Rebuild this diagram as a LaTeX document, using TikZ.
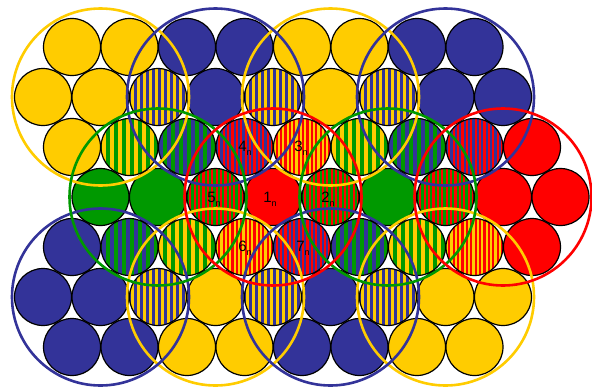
\documentclass[tikz,border=0pt]{standalone}
\usepackage{fontspec}
\setmainfont{Liberation Sans}
\definecolor{yel}{HTML}{FFCC00}
\definecolor{blu}{HTML}{333399}
\definecolor{grn}{HTML}{009900}
\definecolor{rd}{HTML}{FF0000}
\tikzset{
  cellline/.style={draw=black,line width=1.2pt},
  bigring/.style={line width=2.6pt},
  lab/.style={font=\fontsize{15}{15}\selectfont, inner sep=0pt},
}
\newcommand\solidcell[3]{%
  \fill[#3] (#1,#2) circle[radius=28.5pt];
  \draw[cellline] (#1,#2) circle[radius=28.5pt];}
\newcommand\hatchcell[5]{%
  \begin{scope}
    \clip (#1,#2) circle[radius=28.5pt];
    \fill[#3] ({#1-30},{#2-30}) rectangle ({#1+30},{#2+30});
    \foreach \k in {-8,...,8}
      \fill[#4] ({#1+\k*#5},{#2-30}) rectangle ++({#5/2},60);
  \end{scope}
  \draw[cellline] (#1,#2) circle[radius=28.5pt];}
\newcommand\lbl[1]{#1\raisebox{-0.5ex}{\fontsize{9}{9}\selectfont n}}
\begin{document}
\begin{tikzpicture}[x=1pt,y=-1pt]
\useasboundingbox (0,0) rectangle (592,389);
% row 0
\solidcell{72}{47}{yel}
\solidcell{129.5}{47}{yel}
\solidcell{187}{47}{blu}
\solidcell{244.5}{47}{blu}
\solidcell{302}{47}{yel}
\solidcell{359.5}{47}{yel}
\solidcell{417}{47}{blu}
\solidcell{474.5}{47}{blu}
% row 1
\solidcell{43}{97}{yel}
\solidcell{100.5}{97}{yel}
\hatchcell{158}{97}{yel}{blu}{6}
\solidcell{215.5}{97}{blu}
\hatchcell{273}{97}{yel}{blu}{6}
\solidcell{330.5}{97}{yel}
\hatchcell{388}{97}{yel}{blu}{6}
\solidcell{445.5}{97}{blu}
\solidcell{503}{97}{blu}
% row 2
\solidcell{72}{147}{yel}
\hatchcell{129.5}{147}{yel}{grn}{8}
\hatchcell{187}{147}{blu}{grn}{8}
\hatchcell{244.5}{147}{blu}{rd}{4.4}
\hatchcell{302}{147}{yel}{rd}{4.4}
\hatchcell{359.5}{147}{yel}{grn}{8}
\hatchcell{417}{147}{blu}{grn}{8}
\hatchcell{474.5}{147}{blu}{rd}{4.4}
\solidcell{532}{147}{rd}
% row 3
\solidcell{100.5}{197}{grn}
\solidcell{158}{197}{grn}
\hatchcell{215.5}{197}{grn}{rd}{4.4}
\solidcell{273}{197}{rd}
\hatchcell{330.5}{197}{grn}{rd}{4.4}
\solidcell{388}{197}{grn}
\hatchcell{445.5}{197}{grn}{rd}{4.4}
\solidcell{503}{197}{rd}
\solidcell{560.5}{197}{rd}
% row 4
\solidcell{72}{247}{blu}
\hatchcell{129.5}{247}{blu}{grn}{8}
\hatchcell{187}{247}{yel}{grn}{8}
\hatchcell{244.5}{247}{yel}{rd}{4.4}
\hatchcell{302}{247}{blu}{rd}{4.4}
\hatchcell{359.5}{247}{blu}{grn}{8}
\hatchcell{417}{247}{yel}{grn}{8}
\hatchcell{474.5}{247}{yel}{rd}{4.4}
\solidcell{532}{247}{rd}
% row 5
\solidcell{43}{297}{blu}
\solidcell{100.5}{297}{blu}
\hatchcell{158}{297}{yel}{blu}{6}
\solidcell{215.5}{297}{yel}
\hatchcell{273}{297}{yel}{blu}{6}
\solidcell{330.5}{297}{blu}
\hatchcell{388}{297}{yel}{blu}{6}
\solidcell{445.5}{297}{yel}
\solidcell{503}{297}{yel}
% row 6
\solidcell{72}{347}{blu}
\solidcell{129.5}{347}{blu}
\solidcell{187}{347}{yel}
\solidcell{244.5}{347}{yel}
\solidcell{302}{347}{blu}
\solidcell{359.5}{347}{blu}
\solidcell{417}{347}{yel}
\solidcell{474.5}{347}{yel}
% cluster rings
\draw[bigring,yel] (100.5,97) circle[radius=88.5pt];
\draw[bigring,yel] (330.5,97) circle[radius=88.5pt];
\draw[bigring,yel] (215.5,297) circle[radius=88.5pt];
\draw[bigring,yel] (445.5,297) circle[radius=88.5pt];
\draw[bigring,blu] (215.5,97) circle[radius=88.5pt];
\draw[bigring,blu] (445.5,97) circle[radius=88.5pt];
\draw[bigring,blu] (100.5,297) circle[radius=88.5pt];
\draw[bigring,blu] (330.5,297) circle[radius=88.5pt];
\draw[bigring,grn] (158,197) circle[radius=88.5pt];
\draw[bigring,grn] (388,197) circle[radius=88.5pt];
\draw[bigring,rd] (273,197) circle[radius=88.5pt];
\draw[bigring,rd] (503,197) circle[radius=88.5pt];
% labels
\node[lab] (l1) at (270,199) {\lbl{1}};
\node[lab] (l2) at (328,199) {\lbl{2}};
\node[lab] (l3) at (301,148) {\lbl{3}};
\node[lab] (l4) at (245,148) {\lbl{4}};
\node[lab] (l5) at (214,199) {\lbl{5}};
\node[lab] (l6) at (245,248) {\lbl{6}};
\node[lab] (l7) at (303,248) {\lbl{7}};
\end{tikzpicture}
\end{document}
